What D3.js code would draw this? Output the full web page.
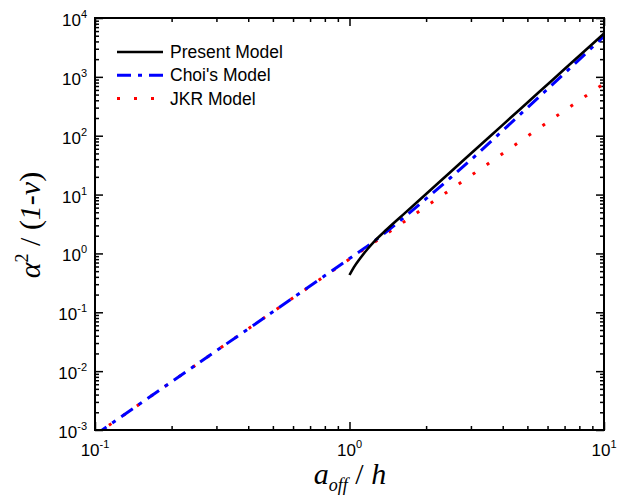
<!DOCTYPE html>
<html>
<head>
<meta charset="utf-8">
<script src="https://cdnjs.cloudflare.com/ajax/libs/d3/7.8.5/d3.min.js"></script>
<style>
  body { margin: 0; background: #fff; }
  svg { display: block; }
</style>
</head>
<body>
<div id="graph"></div>
<script>
// data
var presentX = [1, 1.04, 1.1, 1.18, 1.26, 1.4, 1.65, 2, 2.5, 3, 4, 5.6, 7, 10];
var presentY = [0.43, 0.58, 0.82, 1.2, 1.65, 2.55, 4.84, 10.2, 24.5, 49.8, 153, 568, 1357, 5450];

var choiX = [0.1, 0.2, 0.5, 1, 1.2, 1.4, 1.6, 2, 2.5, 3, 4, 5.6, 7, 10];
var choiY = [0.00082, 0.0066, 0.102, 0.82, 1.42, 2.35, 3.75, 8.5, 19.5, 39, 122, 470, 1150, 4900];

var jkrX = [0.1, 0.2, 0.5, 1, 1.5, 2, 3, 5, 7, 10];
var jkrY = [0.00082, 0.0066, 0.102, 0.8, 2.65, 6.3, 21, 98, 268, 770];

var xDecades = [-1, 0, 1];
var yDecades = [-3, -2, -1, 0, 1, 2, 3, 4];

var seriesNames = ['Present Model', "Choi's Model", 'JKR Model'];

var width = 618, height = 498;
var pl = 95, pr = 604, pt = 18, pb = 430;

var svg = d3.select('#graph')
    .append('svg')
        .attr('width', width)
        .attr('height', height);

var x = d3.scaleLog()
    .domain([0.1, 10])
    .range([pl, pr]);

var y = d3.scaleLog()
    .domain([1e-3, 1e4])
    .range([pb, pt]);

function minors(decades) {
    var out = [];
    decades.slice(0, -1).forEach(function(e) {
        for (var k = 2; k <= 9; k++) out.push(k * Math.pow(10, e));
    });
    return out;
}
var xMajor = xDecades.map(function(e) { return Math.pow(10, e); });
var yMajor = yDecades.map(function(e) { return Math.pow(10, e); });

// ticks, all pointing inward
function tickAxis(axisFn, scale, values, size, tx, ty) {
    var g = svg.append('g')
        .attr('transform', 'translate(' + tx + ',' + ty + ')')
        .call(axisFn(scale).tickValues(values).tickSize(size).tickFormat(''));
    g.select('.domain').remove();
    g.selectAll('line').attr('stroke', '#000').attr('stroke-width', 1.5);
}
tickAxis(d3.axisBottom, x, xMajor, -8, 0, pb);
tickAxis(d3.axisBottom, x, minors(xDecades), -4, 0, pb);
tickAxis(d3.axisTop, x, xMajor, -8, 0, pt);
tickAxis(d3.axisTop, x, minors(xDecades), -4, 0, pt);
tickAxis(d3.axisLeft, y, yMajor, -8, pl, 0);
tickAxis(d3.axisLeft, y, minors(yDecades), -4, pl, 0);
tickAxis(d3.axisRight, y, yMajor, -8, pr, 0);
tickAxis(d3.axisRight, y, minors(yDecades), -4, pr, 0);

// tick labels
var lab = svg.append('g')
    .attr('font-family', 'Liberation Sans, Arial, sans-serif')
    .attr('font-size', 17);

lab.selectAll('.xl')
    .data(xDecades).enter().append('text')
    .attr('class', 'xl')
    .attr('x', function(d) { return x(Math.pow(10, d)); })
    .attr('y', 456)
    .attr('text-anchor', 'middle')
    .each(function(d) {
        var t = d3.select(this);
        t.append('tspan').text('10');
        t.append('tspan').attr('dy', -8).attr('font-size', 11).text(d);
    });

lab.selectAll('.yl')
    .data(yDecades).enter().append('text')
    .attr('class', 'yl')
    .attr('x', 87)
    .attr('y', function(d) { return y(Math.pow(10, d)) + 8; })
    .attr('text-anchor', 'end')
    .each(function(d) {
        var t = d3.select(this);
        t.append('tspan').text('10');
        t.append('tspan').attr('dy', -8).attr('font-size', 11).text(d);
    });

// lines
var line = d3.line()
    .x(function(d) { return x(d[0]); })
    .y(function(d) { return y(d[1]); })
    .curve(d3.curveMonotoneX);

svg.append('clipPath').attr('id', 'clip')
    .append('rect')
    .attr('x', pl).attr('y', pt)
    .attr('width', pr - pl).attr('height', pb - pt);

var plot = svg.append('g').attr('clip-path', 'url(#clip)');

var styles = [
    { color: '#000000', width: 2.6, dash: null },
    { color: '#0000ff', width: 3, dash: '14,7,4,7' },
    { color: '#ff0000', width: 3, dash: '3,14' }
];
var series = [
    d3.zip(presentX, presentY),
    d3.zip(choiX, choiY),
    d3.zip(jkrX, jkrY)
];

// JKR under Choi under Present
[2, 1, 0].forEach(function(i) {
    plot.append('path')
        .datum(series[i])
        .attr('d', line)
        .attr('fill', 'none')
        .attr('stroke', styles[i].color)
        .attr('stroke-width', styles[i].width)
        .attr('stroke-dasharray', styles[i].dash);
});

// frame
svg.append('rect')
    .attr('x', pl).attr('y', pt)
    .attr('width', pr - pl).attr('height', pb - pt)
    .attr('fill', 'none')
    .attr('stroke', '#000')
    .attr('stroke-width', 2);

// LEGEND
var legend = svg.append('g')
    .attr('font-family', 'Liberation Sans, Arial, sans-serif')
    .attr('font-size', 17.5);
seriesNames.forEach(function(name, i) {
    var ly = 52 + i * 23.3;
    legend.append('line')
        .attr('x1', 117).attr('x2', 163)
        .attr('y1', ly).attr('y2', ly)
        .attr('stroke', styles[i].color)
        .attr('stroke-width', styles[i].width)
        .attr('stroke-dasharray', styles[i].dash);
    legend.append('text')
        .attr('x', 170)
        .attr('y', ly + 6)
        .text(name);
});

// axis titles
var serif = 'Liberation Serif, Times New Roman, serif';
var xt = svg.append('text')
    .attr('x', 350)
    .attr('y', 484)
    .attr('text-anchor', 'middle')
    .attr('font-family', serif)
    .attr('font-size', 30)
    .attr('font-style', 'italic');
xt.append('tspan').text('a');
xt.append('tspan').attr('dy', 7).attr('font-size', 18).text('off');
xt.append('tspan').attr('dy', -7).attr('font-style', 'normal').text(' / ');
xt.append('tspan').text('h');

var yt = svg.append('text')
    .attr('transform', 'translate(40,225) rotate(-90)')
    .attr('text-anchor', 'middle')
    .attr('font-family', serif)
    .attr('font-size', 30)
    .attr('font-style', 'italic');
yt.append('tspan').text('α');
yt.append('tspan').attr('dy', -12).attr('font-size', 18).attr('font-style', 'normal').text('2');
yt.append('tspan').attr('dy', 12).attr('font-style', 'normal').text(' / (');
yt.append('tspan').text('1-ν');
yt.append('tspan').attr('font-style', 'normal').text(')');
</script>
</body>
</html>
